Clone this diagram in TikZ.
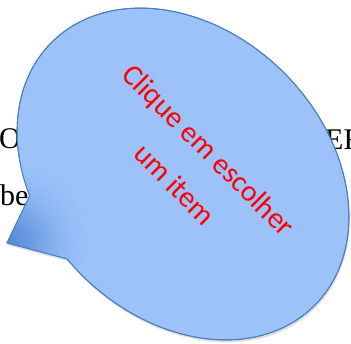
\documentclass[tikz,border=0pt]{standalone}
\usepackage{fontspec}
\setmainfont{Liberation Serif}
\newfontfamily\calloutfont{Carlito}
\usetikzlibrary{shadows}
\definecolor{bubbleblue}{RGB}{156,194,249}
\definecolor{bubbleline}{RGB}{74,126,187}
\definecolor{tipblue}{RGB}{84,137,216}
\pgfdeclareradialshading{tipglow}{\pgfpointorigin}{%
	color(0bp)=(tipblue); color(5bp)=(tipblue!78!bubbleblue);
	color(10bp)=(tipblue!48!bubbleblue); color(15bp)=(tipblue!22!bubbleblue);
	color(20bp)=(tipblue!6!bubbleblue); color(25bp)=(bubbleblue); color(50bp)=(bubbleblue)}

\begin{document}
\begin{tikzpicture}[x=1pt, y=1pt]
		\def\ra{186}
		\def\rb{143}
		\def\tstart{-96.8}
		\def\tend{240}
		\useasboundingbox (0,0) rectangle (351,-343);
		\clip (0,0) rectangle (351,-343);

		% Page text behind the callout
		\node[anchor=base west, inner sep=0, font=\fontsize{30}{36}\selectfont] (lineone) at (-1,-148) {O};
		\node[anchor=base west, inner sep=0, font=\fontsize{30}{36}\selectfont] (lineoneend) at (325,-149) {EF};
		\node[anchor=base west, inner sep=0, font=\fontsize{30}{36}\selectfont] (linetwo) at (0,-205) {be};

		% Callout body with tail
		\begin{scope}[shift={(183,-174)}, rotate=-45]
			\coordinate (tip) at (-75.7,-173.2);
			\coordinate (base) at ({\ra*cos(\tstart)},{\rb*sin(\tstart)});
			\draw[fill=bubbleblue, draw=bubbleline, line width=0.9pt,
				drop shadow={opacity=0.25, shadow xshift=1pt, shadow yshift=-2.5pt}]
				(tip) -- (base) arc[start angle=\tstart, end angle=\tend, x radius=\ra, y radius=\rb] -- cycle;
			% Darker tint towards the tail tip
			\begin{scope}
				\clip (tip) -- (base) arc[start angle=\tstart, end angle=\tend, x radius=\ra, y radius=\rb] -- cycle;
				\shade[shading=tipglow] (tip) circle (80);
			\end{scope}
			\draw[draw=bubbleline, line width=0.9pt]
				(tip) -- (base) arc[start angle=\tstart, end angle=\tend, x radius=\ra, y radius=\rb] -- cycle;
		\end{scope}

		% Callout text
		\node[rotate=-45, align=center, text=red, inner sep=0,
			font=\calloutfont\fontsize{29.7}{48}\selectfont] (prompt) at (192,-167) {Clique em escolher\\um item};
	\end{tikzpicture}
\end{document}
